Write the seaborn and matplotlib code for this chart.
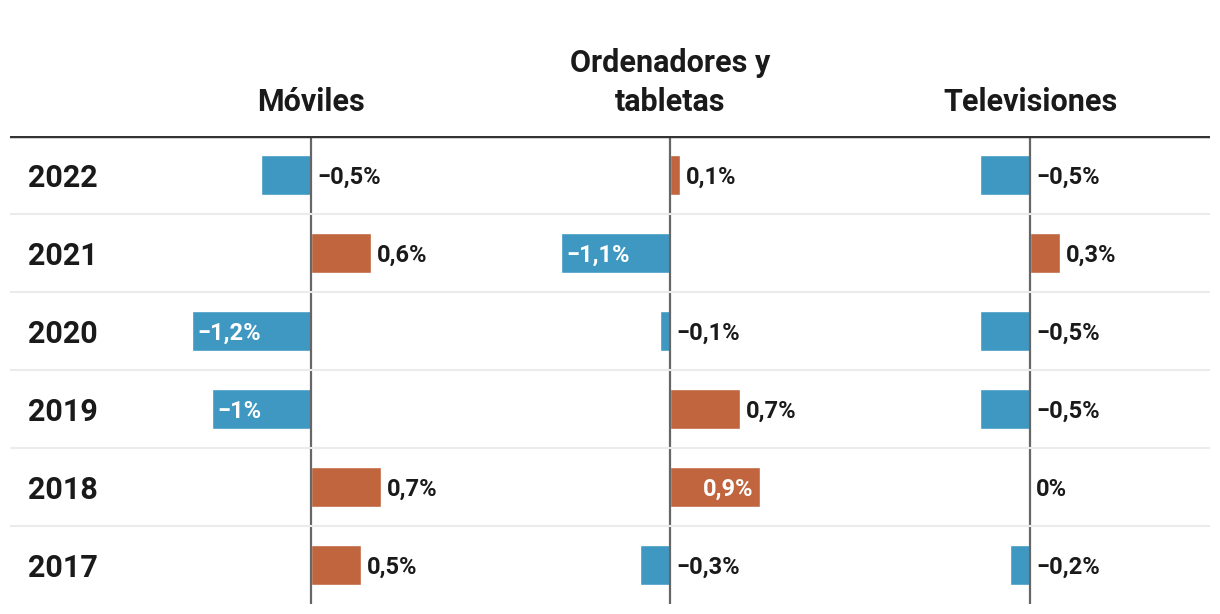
import matplotlib
matplotlib.use("Agg")
import matplotlib.pyplot as plt
import seaborn as sns
import pandas as pd

sns.set_theme(style="white")
plt.rcParams['font.family'] = ['Roboto', 'DejaVu Sans']

# ---- data ----
years = ["2022", "2021", "2020", "2019", "2018", "2017"]
categories = ["Móviles", "Ordenadores y\ntabletas", "Televisiones"]
moviles = [-0.5, 0.6, -1.2, -1.0, 0.7, 0.5]
ordenadores = [0.1, -1.1, -0.1, 0.7, 0.9, -0.3]
televisiones = [-0.5, 0.3, -0.5, -0.5, 0.0, -0.2]
series = [moviles, ordenadores, televisiones]

BLUE = "#3f98c1"
ORANGE = "#c0653e"
TXT = "#1a1a1a"

W, H = 1220, 614
fig = plt.figure(figsize=(W / 100, H / 100), dpi=100)

def fx(px):
    return px / W

def fy(py):
    return 1 - py / H

top_px, bot_px = 136, 604
ax_h = (bot_px - top_px) / H
ax_b = fy(bot_px)

unit = 99.5
xmin, xmax = -1.5, 1.8
zeros = [311, 670, 1030]
LFS = 17


def fmt(v):
    if abs(v) < 1e-9:
        return "0%"
    s = f"{abs(v):.1f}".replace(".", ",")
    if s.endswith(",0"):
        s = s[:-2]
    return ("\u2212" if v < 0 else "") + s + "%"


axes = []
for zpx, cat, vals in zip(zeros, categories, series):
    left = zpx + xmin * unit
    width = (xmax - xmin) * unit
    ax = fig.add_axes([fx(left), ax_b, fx(width), ax_h])
    df = pd.DataFrame({"año": years, "valor": vals,
                       "signo": ["neg" if v < 0 else "pos" for v in vals]})
    sns.barplot(data=df, x="valor", y="año", hue="signo", order=years,
                palette={"neg": BLUE, "pos": ORANGE}, orient="h",
                width=0.52, dodge=False, legend=False, ax=ax,
                saturation=1, zorder=2)
    ax.set_xlim(xmin, xmax)
    ax.set_ylim(5.5, -0.5)
    ax.set_axis_off()
    ax.axvline(0, color="#666666", lw=1.6, zorder=3)
    off = 6 / unit
    for i, v in enumerate(vals):
        lab = fmt(v)
        if v <= -1.0:
            x, ha, c = v + off, "left", "white"
        elif v <= 0:
            x, ha, c = off, "left", TXT
        elif v >= 0.9:
            x, ha, c = v - off, "right", "white"
        else:
            x, ha, c = v + off, "left", TXT
        ax.text(x, i, lab, color=c, ha=ha, va="center_baseline",
                fontsize=LFS, fontweight="bold", zorder=4)
    fig.text(fx(zpx), fy(117), cat, ha="center", va="bottom",
             fontsize=22, fontweight="bold", color=TXT, linespacing=1.38)
    axes.append(ax)

# background frame: header line, separators, year labels
bg = fig.add_axes([fx(10), ax_b, fx(1200), ax_h], zorder=5)
bg.patch.set_visible(False)
bg.set_xlim(0, 1)
bg.set_ylim(5.5, -0.5)
bg.set_axis_off()
for b in [0.5, 1.5, 2.5, 3.5, 4.5]:
    bg.axhline(b, color="#ebebeb", lw=1.5)
bg.axhline(-0.5, color="#333333", lw=3.2)
for i, y in enumerate(years):
    bg.text((28 - 10) / 1200, i, y, ha="left", va="center_baseline",
            fontsize=22, fontweight="bold", color=TXT)

fig.savefig("out.png", dpi=100, facecolor="white")
